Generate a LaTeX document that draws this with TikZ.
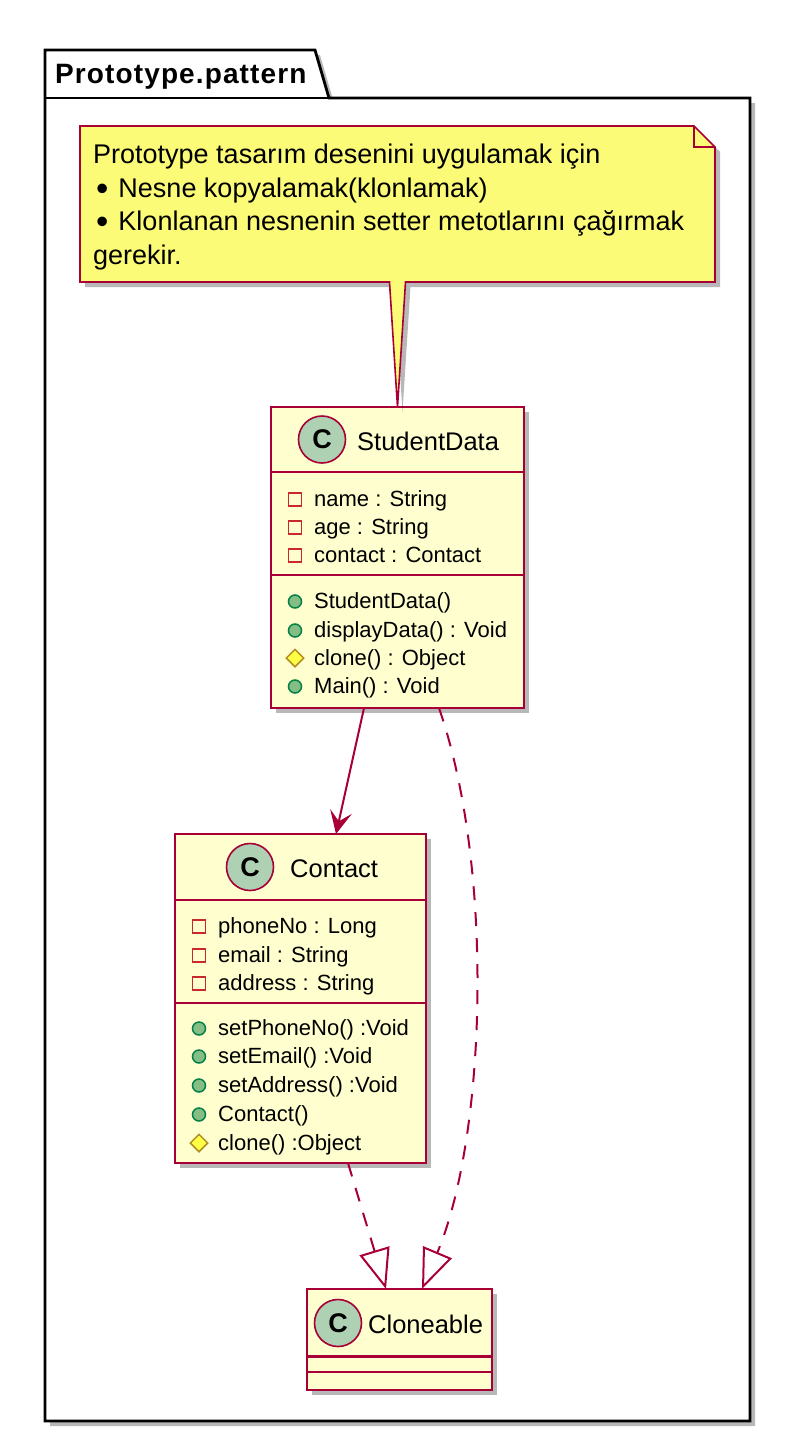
\documentclass[tikz,border=0pt]{standalone}
\usepackage{fontspec}
\setmainfont{Liberation Sans}
\usetikzlibrary{arrows.meta,shapes.geometric,shadows}

\definecolor{umlred}{HTML}{A80036}
\definecolor{classbg}{HTML}{FEFECE}
\definecolor{notebg}{HTML}{FBFB77}
\definecolor{badgebg}{HTML}{ADD1B2}
\definecolor{privred}{HTML}{C82930}
\definecolor{pubgreen}{HTML}{038048}
\definecolor{publight}{HTML}{84BE84}
\definecolor{protbrown}{HTML}{B38D22}
\definecolor{protyellow}{HTML}{FFFF44}

\newcommand\notebullet{\hspace*{3pt}\raisebox{-3pt}{\scalebox{1.3}{•}}\hspace{10pt}}

\tikzset{
	umlshadow/.style={drop shadow={shadow xshift=5pt, shadow yshift=-5pt, fill=black, opacity=0.28}},
	pkgbox/.style={draw=black, line width=2.8pt, fill=white, umlshadow},
	pkgtitle/.style={anchor=base west, inner sep=0, font=\bfseries\fontsize{28}{34}\selectfont\addfontfeature{LetterSpace=4}},
	notearea/.style={anchor=north west, minimum width=635, minimum height=156, inner sep=0, outer sep=0},
	notebox/.style={draw=umlred, line width=1.6pt, fill=notebg, umlshadow},
	notetext/.style={anchor=north west, inner sep=0, align=left, font=\fontsize{27}{33.6}\selectfont},
	classbox/.style={draw=umlred, line width=2.8pt, fill=classbg, anchor=north west, inner sep=0, outer sep=0, umlshadow},
	classsep/.style={draw=umlred, line width=2.8pt},
	badge/.style={circle, draw=umlred, line width=1.6pt, fill=badgebg, minimum size=47, inner sep=0, font=\bfseries\fontsize{27}{27}\selectfont},
	classname/.style={anchor=base west, inner sep=0, font=\fontsize{25.5}{30}\selectfont},
	member/.style={anchor=base west, inner sep=0, font=\fontsize{22}{26}\selectfont},
	fieldpriv/.style={rectangle, draw=privred, line width=1.5pt, minimum size=13, inner sep=0},
	methodpub/.style={circle, draw=pubgreen, fill=publight, line width=1.5pt, minimum size=13, inner sep=0},
	methodprot/.style={diamond, draw=protbrown, fill=protyellow, line width=1.5pt, minimum size=18, inner sep=0},
	assoc/.style={draw=umlred, line width=2pt, -{Stealth[length=23pt, width=22pt, inset=10pt]}},
	realize/.style={draw=umlred, line width=2pt, dash pattern=on 14pt off 12pt, -{Triangle[open, length=40pt, width=31pt]}}
}

\begin{document}
\begin{tikzpicture}[x=1pt, y=-1pt]
	\useasboundingbox (0,0) rectangle (793,1445);

	\draw[pkgbox] (45,98) -- (45,50) -- (315,50) -- (329,98) -- (750,98) -- (750,1421) -- (45,1421) -- cycle;
	\draw[line width=2.8pt] (45,98) -- (329,98);
	\node (pkg) [pkgtitle] at (55,84) {Prototype.pattern};

	\node (sd) [classbox, minimum width=253, minimum height=301] at (271,407) {};
	\node (sdc) [badge] at (322,439.5) {C};
	\node (sdn) [classname] at (357,450) {StudentData};
	\draw[classsep] (271,472) -- (524,472);
	\draw[classsep] (271,575) -- (524,575);
	\node (sdi1) [fieldpriv] at (295,499.5) {};
	\node (sda1) [member] at (314,506) {name : String};
	\node (sdi2) [fieldpriv] at (295,527.5) {};
	\node (sda2) [member] at (314,534) {age : String};
	\node (sdi3) [fieldpriv] at (295,555.5) {};
	\node (sda3) [member] at (314,562) {contact : Contact};
	\node (sdi4) [methodpub] at (295,601.5) {};
	\node (sdm1) [member] at (314,608) {StudentData()};
	\node (sdi5) [methodpub] at (295,630.5) {};
	\node (sdm2) [member] at (314,637) {displayData() : Void};
	\node (sdi6) [methodprot] at (295,658) {};
	\node (sdm3) [member] at (314,665) {clone() : Object};
	\node (sdi7) [methodpub] at (295,686.5) {};
	\node (sdm4) [member] at (314,693) {Main() : Void};

	\node (note) [notearea] at (80,126) {};
	\draw[notebox] (note.north west) -- ([xshift=-21]note.north east) -- ([yshift=-21]note.north east)
		-- (note.south east) -- ([xshift=8]note.south) -- (sd.north) -- ([xshift=-8]note.south)
		-- (note.south west) -- cycle;
	\draw[umlred, line width=1.6pt] ([xshift=-21]note.north east) -- ([xshift=-21, yshift=-21]note.north east) -- ([yshift=-21]note.north east);
	\node (notetxt) [notetext] at (93,144) {Prototype tasarım desenini uygulamak için\\
		\notebullet Nesne kopyalamak(klonlamak)\\
		\notebullet Klonlanan nesnenin setter metotlarını çağırmak\\
		gerekir.};

	\node (ct) [classbox, minimum width=251, minimum height=329] at (175,834) {};
	\node (ctc) [badge] at (250,867) {C};
	\node (ctn) [classname] at (290,877) {Contact};
	\draw[classsep] (175,900) -- (426,900);
	\draw[classsep] (175,1003) -- (426,1003);
	\node (cti1) [fieldpriv] at (199,926.5) {};
	\node (cta1) [member] at (218,933) {phoneNo : Long};
	\node (cti2) [fieldpriv] at (199,955.5) {};
	\node (cta2) [member] at (218,962) {email : String};
	\node (cti3) [fieldpriv] at (199,983.5) {};
	\node (cta3) [member] at (218,990) {address : String};
	\node (cti4) [methodpub] at (199,1028.5) {};
	\node (ctm1) [member] at (218,1035) {setPhoneNo() :Void};
	\node (cti5) [methodpub] at (199,1056.5) {};
	\node (ctm2) [member] at (218,1063) {setEmail() :Void};
	\node (cti6) [methodpub] at (199,1085.5) {};
	\node (ctm3) [member] at (218,1092) {setAddress() :Void};
	\node (cti7) [methodpub] at (199,1114.5) {};
	\node (ctm4) [member] at (218,1121) {Contact()};
	\node (cti8) [methodprot] at (199,1143) {};
	\node (ctm5) [member] at (218,1150) {clone() :Object};

	\node (cl) [classbox, minimum width=185, minimum height=101] at (307,1289) {};
	\node (clc) [badge] at (338,1323) {C};
	\node (cln) [classname] at (368,1333) {Cloneable};
	\draw[classsep] (307,1356.5) -- (492,1356.5);
	\draw[classsep] (307,1372) -- (492,1372);

	\draw[assoc] ([xshift=-33.5]sd.south) -- ([xshift=35.5]ct.north);
	\draw[realize] ([xshift=47.5]ct.south) -- ([xshift=-13.5]cl.north);
	\draw[realize] ([xshift=41.5]sd.south) .. controls (495,870) and (486,1137) .. ([xshift=22.5]cl.north);
\end{tikzpicture}
\end{document}
